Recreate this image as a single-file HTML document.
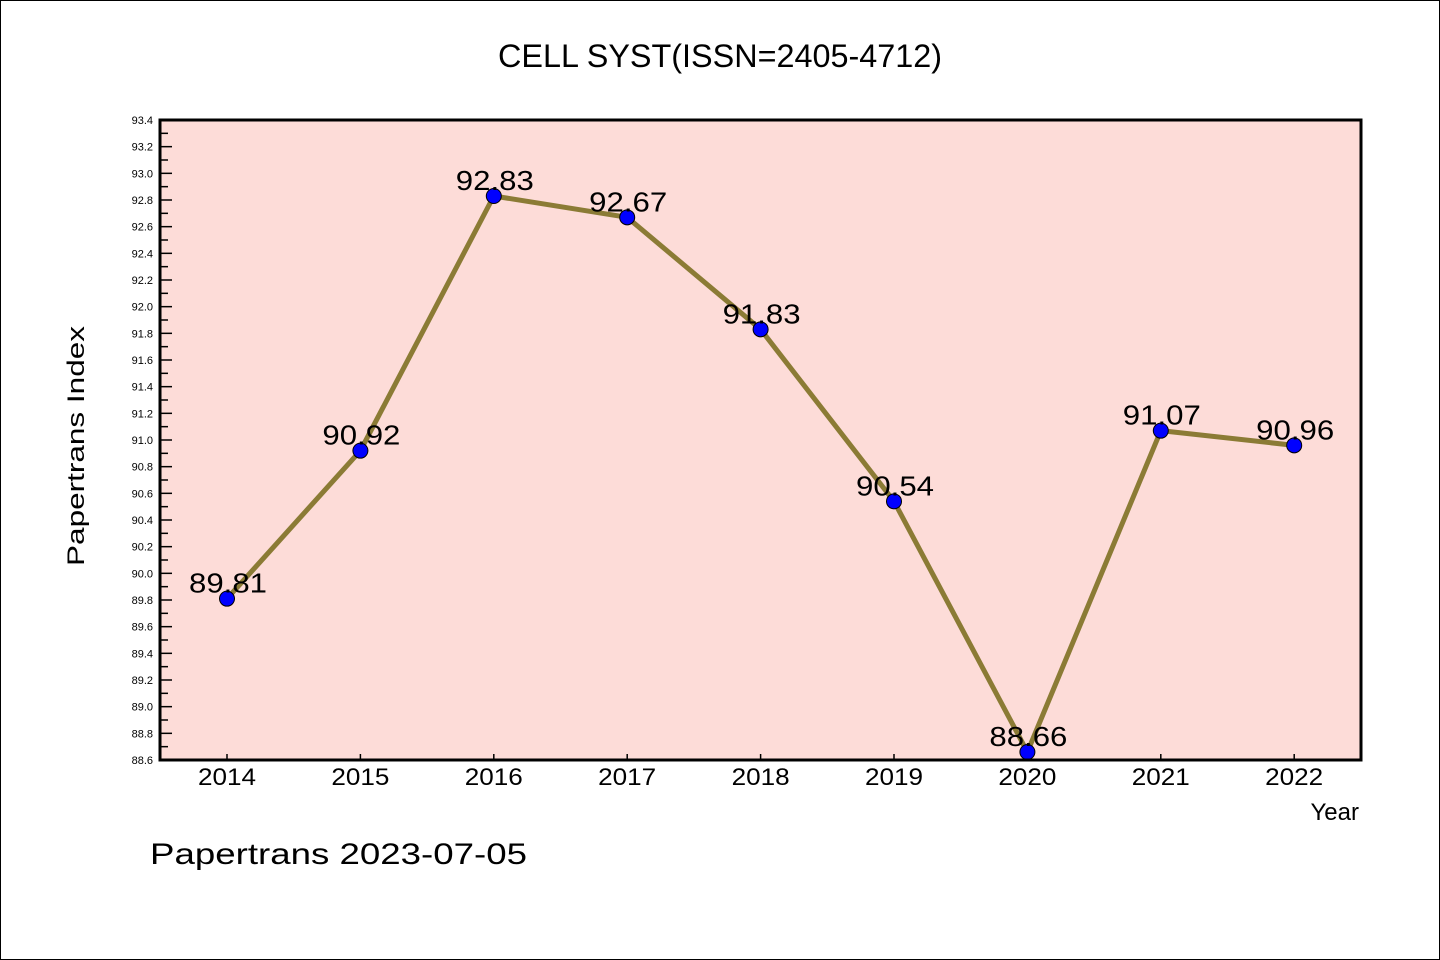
<!DOCTYPE html>
<html><head><meta charset="utf-8"><style>
html,body{margin:0;padding:0;background:#fff}
svg{display:block}
text{font-family:"WenQuanYi Zen Hei","Liberation Sans",sans-serif;fill:#000}
</style></head><body>
<svg id="chart" width="1440" height="960" xmlns="http://www.w3.org/2000/svg">
<rect x="0.5" y="0.5" width="1439" height="959" fill="#fff" stroke="#000" stroke-width="1"/>
<text x="720" y="67" font-size="32" text-anchor="middle" textLength="444" lengthAdjust="spacingAndGlyphs">CELL SYST(ISSN=2405-4712)</text>
<rect x="160" y="120" width="1201" height="640" fill="#fddcd8"/>
<g id="yticks"></g>
<g id="xticks"></g>
<g id="series"></g>
<rect x="160" y="120" width="1201" height="640" fill="none" stroke="#000" stroke-width="3"/>
<text transform="translate(84,446) rotate(-90)" font-size="24" text-anchor="middle" textLength="240" lengthAdjust="spacingAndGlyphs">Papertrans Index</text>
<text x="1359" y="820" font-size="24" text-anchor="end">Year</text>
<text x="150" y="864" font-size="30" textLength="377" lengthAdjust="spacingAndGlyphs">Papertrans 2023-07-05</text>
</svg>
<script>
const years = ["2014","2015","2016","2017","2018","2019","2020","2021","2022"];
const values = [89.81, 90.92, 92.83, 92.67, 91.83, 90.54, 88.66, 91.07, 90.96];
const yTickLabels = ["88.6","88.8","89.0","89.2","89.4","89.6","89.8","90.0","90.2","90.4","90.6","90.8","91.0","91.2","91.4","91.6","91.8","92.0","92.2","92.4","92.6","92.8","93.0","93.2","93.4"];
const NS="http://www.w3.org/2000/svg";
const yMin=88.6,yMax=93.4,plotTop=120,plotBot=760;
function yScale(v){return plotBot-(v-yMin)/(yMax-yMin)*(plotBot-plotTop);}
function xScale(i){return 227+i*133.4;}
function mk(tag,attrs,parent){const e=document.createElementNS(NS,tag);for(const k in attrs)e.setAttribute(k,attrs[k]);parent.appendChild(e);return e;}
const yt=document.getElementById('yticks');
yTickLabels.forEach((l,i)=>{
  const v=parseFloat(l),yy=yScale(v);
  const t=mk('line',{x1:160,x2:172,y1:yy,y2:yy,stroke:'#000','stroke-width':1.5},yt);
  
  
  if(i<yTickLabels.length-1){const ym=yScale(v+0.1);
    const m=mk('line',{x1:160,x2:168,y1:ym,y2:ym,stroke:'#000','stroke-width':1.5},yt);
    
    }
  const tx=mk('text',{x:153,y:yy+4,'font-size':11,'text-anchor':'end'},yt);
  tx.textContent=l;
  
  
});
const xt=document.getElementById('xticks');
years.forEach((yr,i)=>{
  const t=mk('line',{x1:xScale(i),x2:xScale(i),y1:760,y2:754,stroke:'#000','stroke-width':1.5},xt);
  
  
  const tx=mk('text',{x:xScale(i),y:785,'font-size':24,'text-anchor':'middle',textLength:58,lengthAdjust:'spacingAndGlyphs'},xt);
  tx.textContent=yr;
  
  
});
const s=document.getElementById('series');
const pl=mk('polyline',{points:values.map((v,i)=>xScale(i)+','+yScale(v)).join(' '),fill:'none',stroke:'#8b7b35','stroke-width':5,'stroke-linejoin':'round'},s);


values.forEach((v,i)=>{
  const c=mk('circle',{cx:xScale(i),cy:yScale(v),r:7.5,fill:'#0000ff',stroke:'#000','stroke-width':1},s);
  
  
  const t=mk('text',{x:xScale(i)+1,y:yScale(v)-6,'font-size':28,'text-anchor':'middle',textLength:78,lengthAdjust:'spacingAndGlyphs'},s);
  t.textContent=v.toFixed(2);
  
  
});
</script>
</body></html>
